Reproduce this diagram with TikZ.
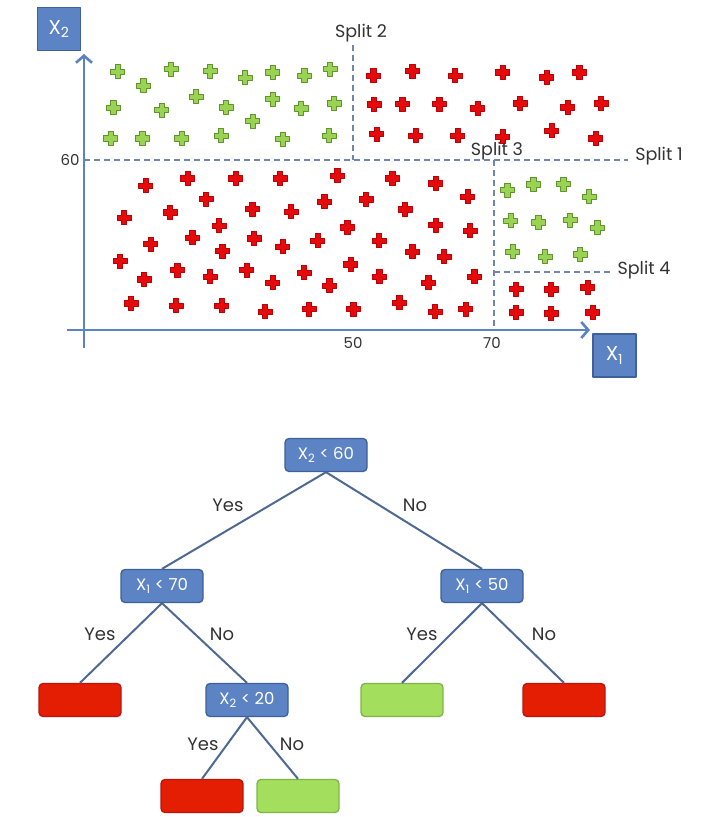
\documentclass[tikz,border=0pt]{standalone}
\usepackage{fontspec}
\setmainfont{Poppins}
\usetikzlibrary{arrows.meta}

\definecolor{axisblue}{HTML}{5B82C2}
\definecolor{boxblue}{HTML}{5C83C3}
\definecolor{boxblueline}{HTML}{3F6098}
\definecolor{dashgray}{HTML}{6F87AA}
\definecolor{crossred}{HTML}{E50A0C}
\definecolor{crossredline}{HTML}{B80006}
\definecolor{crossgreen}{HTML}{9AD253}
\definecolor{crossgreenline}{HTML}{5E962C}
\definecolor{edgeblue}{HTML}{4E6A94}
\definecolor{leafred}{HTML}{E41E02}
\definecolor{leafredline}{HTML}{BE1410}
\definecolor{leafgreen}{HTML}{A3DF5C}
\definecolor{leafgreenline}{HTML}{7FB548}
\definecolor{textgray}{HTML}{333333}

\tikzset{
  crossmark/.pic={\path[pic actions] (-2.7,-7)--(2.7,-7)--(2.7,-2.7)--(7,-2.7)--(7,2.7)--(2.7,2.7)--(2.7,7)--(-2.7,7)--(-2.7,2.7)--(-7,2.7)--(-7,-2.7)--(-2.7,-2.7)--cycle;},
  redx/.style={fill=crossred,draw=crossredline,line width=0.7pt},
  greenx/.style={fill=crossgreen,draw=crossgreenline,line width=0.7pt},
  splitline/.style={dashgray,line width=1.4pt,dash pattern=on 6pt off 4pt},
  axisbox/.style={rectangle,fill=boxblue,draw=boxblueline,line width=1.2pt,minimum width=43pt,minimum height=43pt,text=white,font=\fontsize{20}{20}\selectfont},
  box/.style={rectangle,rounded corners=4pt,minimum width=82pt,minimum height=33pt,line width=1.3pt},
  test/.style={box,fill=boxblue,draw=boxblueline,text=white,font=\fontsize{16.5}{16.5}\selectfont},
  redleaf/.style={box,fill=leafred,draw=leafredline},
  greenleaf/.style={box,fill=leafgreen,draw=leafgreenline},
  edge/.style={edgeblue,line width=2pt},
  answer/.style={text=textgray,font=\fontsize{18}{18}\selectfont},
  tick/.style={text=textgray,font=\fontsize{15}{15}\selectfont},
  splitlabel/.style={text=textgray,font=\fontsize{17.5}{17.5}\selectfont}
}

\begin{document}
\begin{tikzpicture}[line cap=butt,line join=round,x=1pt,y=-1pt]
  \fill[white] (0,0) rectangle (711,817);
  \useasboundingbox (0,0) rectangle (711,817);

  %% Feature space
  \draw[splitline] (84,160) -- (628,160);
  \draw[splitline] (353,45) -- (353,160);
  \draw[splitline] (494,160) -- (494,330);
  \draw[splitline] (494,272) -- (612,272);
  \node[splitlabel] (s1) at (659,156) {Split 1};
  \node[splitlabel] (s2) at (361,33) {Split 2};
  \node[splitlabel] (s3) at (497,151) {Split 3};
  \node[splitlabel] (s4) at (644,270) {Split 4};
  \node[tick] (t60) at (70,160) {60};
  \node[tick] (t50) at (353,343) {50};
  \node[tick] (t70) at (492,343) {70};

  % Points
  \foreach \p in {(117.7,71.7),(143.3,85.7),(171,69),(210,71),(245,77.7),(272.7,72.3),(304.3,75.7),(330,69),
    (113.3,107.7),(161.7,110),(196,96.7),(226,107.3),(272.7,99),(301,108.3),(334,103.3),(252.7,121),
    (110.7,138.3),(142.3,138.3),(181.7,138.3),(221,135.7),(282.7,139),(329,135.7),
    (507.3,190),(533.3,184.3),(563.3,184),(589,196.7),(510.7,220.7),(538.3,222.3),(570,220),(597.3,227.7),
    (512.7,251.7),(545,256.7),(580,254.3)}
    \pic[greenx] at \p {crossmark};
  \foreach \p in {(373.3,75.7),(412.3,71),(455,75.7),(502.7,72.3),(546.7,77.3),(579.3,72.3),
    (374,104.3),(402.3,104),(439.3,104),(477.7,108.3),(520,103.3),(567.7,107.3),(601,103.3),
    (376.7,134),(415.7,135.7),(457.7,135.7),(502.7,136.7),(551.7,130.7),(595.7,138.3),
    (516,289),(551,289.3),(587.7,287.3),(516,312.3),(551,313.3),(592.7,312.3),
    (145.7,185.7),(187.7,178.3),(235.7,178.3),(280,178.3),(337.3,175.7),(392.3,178.3),(435.7,183.3),
    (124,217.7),(170,212.3),(206,199),(252.3,209),(291,211.7),(324.3,201.7),(366,199.3),(405,209.3),(467.7,196.7),
    (219,225.7),(192.3,237.7),(150.7,244),(254,238.3),(282.7,246.7),(317.7,240.7),(347.3,227.3),(379,240.7),(435.7,225),(470,230.7),
    (120,261),(222.3,251),(412.3,251.7),(444,256.7),
    (144,279.3),(177.3,270),(210,276.7),(246.7,270),(272.7,282.7),(304,272.7),(329.3,285.7),(350.7,264.3),(379.3,276.7),(428.3,282.7),(474.3,276.7),
    (131,303.3),(176,305.7),(221.7,305.7),(265,311.7),(309,309),(353.3,309),(399.3,302.7),(435,311.7),(465.7,309)}
    \pic[redx] at \p {crossmark};

  % Axes
  \draw[axisblue,line width=2.6pt,-{Straight Barb[length=7pt,width=16pt,line width=2.6pt]}] (84,348) -- (84,54);
  \draw[axisblue,line width=2.6pt,-{Straight Barb[length=7pt,width=16pt,line width=2.6pt]}] (67,330) -- (590,330);
  \node[axisbox] (x2) at (59,29) {X\textsubscript{2}};
  \node[axisbox] (x1) at (614.5,355.5) {X\textsubscript{1}};

  %% Decision tree
  \node[test] (root) at (326,455) {X\textsubscript{2} < 60};
  \node[test] (a) at (162,586) {X\textsubscript{1} < 70};
  \node[test] (b) at (482,586) {X\textsubscript{1} < 50};
  \node[redleaf] (aa) at (80,700) {};
  \node[test] (ab) at (247,700) {X\textsubscript{2} < 20};
  \node[greenleaf] (ba) at (402,700) {};
  \node[redleaf] (bb) at (564,700) {};
  \node[redleaf] (aba) at (202,796) {};
  \node[greenleaf] (abb) at (298,796) {};

  \draw[edge] (root.south) -- (a.north);
  \draw[edge] (root.south) -- (b.north);
  \draw[edge] (a.south) -- (aa.north);
  \draw[edge] (a.south) -- (ab.north);
  \draw[edge] (b.south) -- (ba.north);
  \draw[edge] (b.south) -- (bb.north);
  \draw[edge] (ab.south) -- (aba.north);
  \draw[edge] (ab.south) -- (abb.north);

  \node[answer] (y1) at (228,505) {Yes};
  \node[answer] (n1) at (415,505) {No};
  \node[answer] (y2) at (100,634) {Yes};
  \node[answer] (n2) at (222,634) {No};
  \node[answer] (y3) at (422,634) {Yes};
  \node[answer] (n3) at (544,634) {No};
  \node[answer] (y4) at (203,744) {Yes};
  \node[answer] (n4) at (292,744) {No};
\end{tikzpicture}
\end{document}
